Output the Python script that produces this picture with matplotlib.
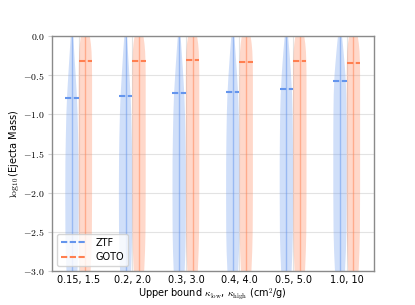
import matplotlib
matplotlib.use("Agg")
import matplotlib.pyplot as plt
from matplotlib.lines import Line2D
import numpy as np

# ---- data ----
categories = ["0.15, 1.5", "0.2, 2.0", "0.3, 3.0", "0.4, 4.0", "0.5, 5.0", "1.0, 10"]
series = ["ZTF", "GOTO"]

# mean log10(ejecta mass) per category (dashed marks)
ztf_means = [-0.79, -0.76, -0.73, -0.71, -0.67, -0.57]
goto_means = [-0.32, -0.32, -0.31, -0.33, -0.32, -0.34]

# relative density profile of each violin, read at these log10 mass levels
levels = [0.3, 0.2, 0.1, 0.0, -0.1, -0.2, -0.35, -0.5, -0.75, -1.0, -1.3, -1.6,
          -2.0, -2.5, -2.75, -3.0, -3.2, -3.4]
ztf_density = [
    [0.0, 0.04, 0.10, 0.18, 0.26, 0.33, 0.44, 0.55, 0.72, 0.84, 0.92, 0.98, 1.0, 0.98, 0.92, 0.82, 0.6, 0.3],
    [0.0, 0.04, 0.10, 0.19, 0.27, 0.35, 0.46, 0.57, 0.74, 0.85, 0.93, 0.98, 1.0, 0.98, 0.92, 0.82, 0.6, 0.3],
    [0.0, 0.05, 0.11, 0.20, 0.29, 0.37, 0.49, 0.60, 0.77, 0.87, 0.94, 0.99, 1.0, 0.98, 0.92, 0.82, 0.6, 0.3],
    [0.0, 0.05, 0.12, 0.22, 0.31, 0.40, 0.52, 0.64, 0.80, 0.89, 0.95, 0.99, 1.0, 0.98, 0.92, 0.80, 0.58, 0.3],
    [0.0, 0.06, 0.14, 0.25, 0.35, 0.45, 0.58, 0.70, 0.85, 0.93, 0.97, 1.0, 1.0, 0.97, 0.90, 0.78, 0.56, 0.28],
    [0.0, 0.08, 0.18, 0.30, 0.42, 0.53, 0.68, 0.82, 0.94, 0.98, 1.0, 1.0, 1.0, 0.96, 0.88, 0.75, 0.52, 0.25],
]
goto_density = [
    [0.0, 0.22, 0.48, 0.66, 0.82, 0.92, 0.98, 1.0, 1.0, 1.0, 1.0, 1.0, 1.0, 0.97, 0.9, 0.78, 0.55, 0.25],
    [0.0, 0.22, 0.48, 0.66, 0.82, 0.92, 0.98, 1.0, 1.0, 1.0, 1.0, 1.0, 1.0, 0.97, 0.9, 0.78, 0.55, 0.25],
    [0.0, 0.23, 0.49, 0.67, 0.83, 0.93, 0.98, 1.0, 1.0, 1.0, 1.0, 1.0, 1.0, 0.97, 0.9, 0.78, 0.55, 0.25],
    [0.0, 0.22, 0.48, 0.66, 0.82, 0.92, 0.98, 1.0, 1.0, 1.0, 1.0, 1.0, 1.0, 0.97, 0.9, 0.78, 0.55, 0.25],
    [0.0, 0.22, 0.48, 0.66, 0.82, 0.92, 0.98, 1.0, 1.0, 1.0, 1.0, 1.0, 1.0, 0.97, 0.9, 0.78, 0.55, 0.25],
    [0.0, 0.22, 0.47, 0.65, 0.81, 0.92, 0.98, 1.0, 1.0, 1.0, 1.0, 1.0, 1.0, 0.97, 0.9, 0.78, 0.55, 0.25],
]
yticks = [0.0, -0.5, -1.0, -1.5, -2.0, -2.5, -3.0]

# ---- styling ----
plt.rcParams["font.family"] = ["DejaVu Sans"]
plt.rcParams["mathtext.fontset"] = "cm"
colors = {"ZTF": "#6495ED", "GOTO": "#FF7F50"}
offset = 0.125
vwidth = 0.25
dash = (0, (3, 1.2))

fig = plt.figure(figsize=(4.15, 3.05), dpi=100)
ax = fig.add_subplot(111)
fig.subplots_adjust(left=0.125, right=0.9, top=0.882, bottom=0.111)

x = np.arange(len(categories))

def draw(dens_list, means, shift, color):
    stats = []
    for d, m in zip(dens_list, means):
        stats.append(dict(coords=np.array(levels), vals=np.array(d), mean=m,
                          median=m, min=min(levels), max=max(levels)))
    parts = ax.violin(stats, positions=x + shift, widths=vwidth,
                      showmeans=False, showextrema=True, showmedians=False)
    for b in parts["bodies"]:
        b.set_facecolor(color)
        b.set_edgecolor("none")
        b.set_alpha(0.3)
    parts["cbars"].set_color(color)
    parts["cbars"].set_alpha(0.5)
    parts["cbars"].set_linewidth(1.0)
    parts["cmins"].set_visible(False)
    parts["cmaxes"].set_visible(False)
    ax.hlines(means, x + shift - vwidth / 2, x + shift + vwidth / 2, colors=color,
              linestyles=dash, linewidth=1.5, zorder=4)

draw(ztf_density, ztf_means, -offset, colors["ZTF"])
draw(goto_density, goto_means, offset, colors["GOTO"])

ax.set_xlim(-0.5, len(categories) - 0.5)
ax.set_ylim(-3.0, 0.0)
ax.set_xticks(x)
ax.set_xticklabels(categories)
ax.set_yticks(yticks)
ax.set_yticklabels([f"${v:.1f}$" for v in yticks])
ax.tick_params(axis="y", length=3, width=0.8, color="#d0d0d0", pad=2, labelsize=7)
ax.tick_params(axis="x", length=0, pad=3, labelsize=7)
ax.grid(True, color="#e3e3e3", linewidth=0.8)
ax.set_axisbelow(True)
for s in ax.spines.values():
    s.set_color("#8a8a8a")
    s.set_linewidth(1.0)

ax.set_xlabel(r"Upper bound $\kappa_{\rm low}$, $\kappa_{\rm high}$ (cm$^2$/g)", fontsize=7, labelpad=1)
ax.set_ylabel(r"$\log_{10}$(Ejecta Mass)", fontsize=7, labelpad=2)

handles = [Line2D([0], [0], color=colors[s], linestyle=dash, linewidth=1.5) for s in series]
ax.legend(handles, series, loc="lower left", fontsize=7, framealpha=0.8,
          handlelength=2.6, handletextpad=1.0)

fig.savefig("out.png", dpi=100)
